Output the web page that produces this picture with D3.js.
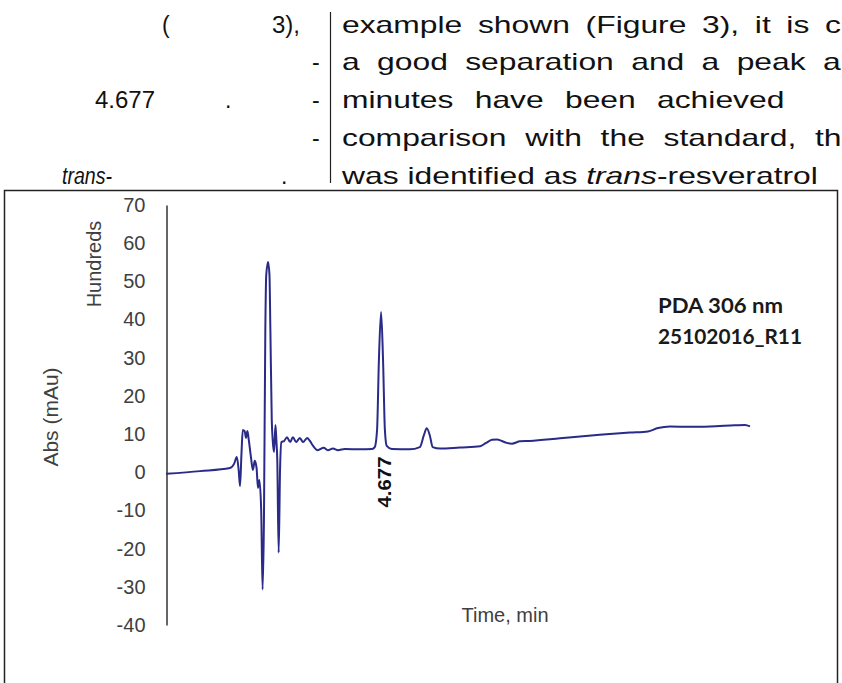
<!DOCTYPE html>
<html>
<head>
<meta charset="utf-8">
<script src="https://cdn.jsdelivr.net/npm/d3@7.9.0/dist/d3.min.js"></script>
<style>
  body { margin: 0; background: #fff; }
  svg { display: block; }
</style>
</head>
<body>
<svg id="fig"></svg>
<script>
// chromatogram trace (time in min, absorbance in hundreds of mAu)
const timeMin = [0, 0.74, 1.39, 1.48, 1.54, 1.58, 1.61, 1.64, 1.67, 1.71, 1.74, 1.77, 1.80, 1.85, 1.89, 1.93, 1.97,
  2.00, 2.03, 2.07, 2.10, 2.13, 2.16, 2.18, 2.22, 2.25, 2.27, 2.30, 2.32, 2.35, 2.38, 2.40, 2.42, 2.45, 2.48, 2.51,
  2.57, 2.63, 2.70, 2.76, 2.83, 2.91, 2.98, 3.07, 3.13, 3.20, 3.30, 3.43, 3.52, 3.63, 3.74, 3.89, 4.22, 4.48,
  4.54, 4.59, 4.63, 4.677, 4.72, 4.76, 4.80, 4.91, 5.30, 5.52, 5.61, 5.67, 5.74, 5.80, 5.96, 6.39, 6.83, 6.96,
  7.09, 7.20, 7.30, 7.41, 7.52, 7.70, 7.91, 8.57, 9.43, 10.09, 10.48, 10.70, 10.96, 11.39, 11.83, 12.37, 12.59, 12.70];
const absHundreds = [-0.4, 0.3, 1.1, 2.2, 4.0, 0.6, -3.6, 4.5, 11.1, 10.8, 9.0, 10.8, 8.5, 3.7, 0.6, 3.0, 1.1,
  -4.1, -2.0, -9.9, -30.7, -12.4, 37.3, 51.7, 55.1, 51.7, 37.3, 13.7, 8.5, 5.3, 12.4, 8.5, 3.2, -21.1, 0.6, 7.9,
  8.2, 9.2, 7.9, 9.2, 7.9, 9.0, 7.9, 9.0, 8.2, 6.9, 5.8, 6.4, 5.8, 6.2, 5.8, 6.1, 6.0, 6.1,
  6.6, 11.1, 29.4, 42.0, 29.4, 11.1, 6.9, 6.1, 6.0, 6.6, 9.8, 11.5, 9.5, 6.6, 6.2, 6.5, 6.8, 7.7,
  8.5, 8.6, 8.2, 7.7, 7.5, 8.1, 8.2, 8.9, 9.8, 10.4, 10.7, 11.6, 12.0, 11.9, 12.0, 12.3, 12.4, 12.0];
const yTicks = [70, 60, 50, 40, 30, 20, 10, 0, -10, -20, -30, -40];
const peakTime = 4.677;
const peakLabel = "4.677";
const infoLines = ["PDA 306 nm", "25102016_R11"];

// page text above the figure (justified column)
const rightRows = [
  ["example", "shown", "(Figure", "3),", "it", "is", "c"],
  ["a", "good", "separation", "and", "a", "peak", "a"],
  ["minutes", "have", "been", "achieved"],
  ["comparison", "with", "the", "standard,", "th"]
];
const lastWordX = [825, 823, 657, 815];

const W = 842, H = 683;
const svg = d3.select("#fig").attr("width", W).attr("height", H);
const bodyFont = "'Liberation Sans', Arial, sans-serif";

// ---- page text ----
const rowY = [33, 70, 108, 146, 184];
const colX = 342;
const txt = svg.append("g").attr("font-family", bodyFont).attr("font-size", 23).attr("fill", "#111");

// horizontal stretch taken from the last, unjustified line
const probe = txt.append("text").attr("transform", `translate(${colX},${rowY[4]})`);
probe.append("tspan").text("was identified as ");
probe.append("tspan").attr("font-style", "italic").text("trans");
probe.append("tspan").text("-resveratrol");
const k = 476 / probe.node().getComputedTextLength();
probe.attr("transform", `translate(${colX},${rowY[4]}) scale(${k},1)`);

rightRows.forEach((words, r) => {
  const nodes = words.map(w => txt.append("text").text(w));
  const widths = nodes.map(n => n.node().getComputedTextLength() * k);
  const used = d3.sum(widths.slice(0, -1));
  const gap = (lastWordX[r] - colX - used) / (words.length - 1);
  let cx = colX;
  nodes.forEach((n, i) => {
    n.attr("transform", `translate(${cx},${rowY[r]}) scale(${k},1)`);
    cx += widths[i] + gap;
  });
});

// left column (only the latin glyphs survive)
const leftItems = [
  ["(", 162, 0, null], ["3),", 272, 0, 28], ["-", 312, 1, null],
  ["4.677", 95, 2, 60], [".", 225, 2, null], ["-", 312, 2, null], ["-", 312, 3, null],
  ["trans-", 62, 4, 50], [".", 281, 4, null]
];
leftItems.forEach(([s, lx, r, len]) => {
  const t = txt.append("text").attr("x", lx).attr("y", rowY[r]).text(s);
  if (s === "trans-") t.attr("font-style", "italic");
  if (len) t.attr("textLength", len).attr("lengthAdjust", "spacingAndGlyphs");
});

svg.append("line")
  .attr("x1", 330.5).attr("x2", 330.5).attr("y1", 12).attr("y2", 183)
  .attr("stroke", "#222").attr("stroke-width", 1.2);

// ---- figure frame ----
svg.append("rect")
  .attr("x", 4.5).attr("y", 190.5).attr("width", 833).attr("height", 520)
  .attr("fill", "#fff").attr("stroke", "#222").attr("stroke-width", 1.5);

// ---- chart ----
const x = d3.scaleLinear().domain([0, 12.7]).range([166, 750]);
const y = d3.scaleLinear().domain([-40, 70]).range([625, 205]);

const yAxis = svg.append("g")
  .attr("transform", "translate(166.5,0)")
  .call(d3.axisLeft(y).tickValues(yTicks).tickSize(0).tickPadding(21).tickFormat(d => String(d)));
yAxis.select(".domain").attr("stroke", "#333").attr("stroke-width", 1.5);
yAxis.selectAll("text")
  .attr("font-family", bodyFont).attr("font-size", 20).attr("fill", "#404040");

svg.append("text")
  .attr("transform", "translate(101,264) rotate(-90)")
  .attr("text-anchor", "middle")
  .attr("font-family", bodyFont).attr("font-size", 20).attr("fill", "#404040")
  .text("Hundreds");

svg.append("text")
  .attr("transform", "translate(58,417) rotate(-90)")
  .attr("text-anchor", "middle")
  .attr("font-family", bodyFont).attr("font-size", 21).attr("fill", "#404040")
  .text("Abs (mAu)");

svg.append("text")
  .attr("x", 505).attr("y", 622)
  .attr("text-anchor", "middle")
  .attr("font-family", bodyFont).attr("font-size", 20).attr("fill", "#404040")
  .text("Time, min");

const pts = timeMin.map((t, i) => [t, absHundreds[i]]);
const line = d3.line().x(d => x(d[0])).y(d => y(d[1])).curve(d3.curveMonotoneX);
svg.append("path")
  .datum(pts)
  .attr("fill", "none")
  .attr("stroke", "#2a2a88")
  .attr("stroke-width", 2)
  .attr("stroke-linejoin", "round")
  .attr("d", line);

// peak label
svg.append("text")
  .attr("transform", `translate(${x(peakTime) + 10},482) rotate(-90)`)
  .attr("text-anchor", "middle")
  .attr("font-family", bodyFont).attr("font-weight", "bold").attr("font-size", 19)
  .attr("textLength", 51).attr("lengthAdjust", "spacingAndGlyphs")
  .attr("fill", "#111")
  .text(peakLabel);

// run info
const infoW = [125, 144];
infoLines.forEach((s, i) => {
  svg.append("text")
    .attr("x", 658).attr("y", 313 + i * 31)
    .attr("font-family", "Lato, 'Open Sans', sans-serif").attr("font-weight", "bold").attr("font-size", 21)
    .attr("textLength", infoW[i]).attr("lengthAdjust", "spacingAndGlyphs")
    .attr("fill", "#1a1a1a")
    .text(s);
});
</script>
</body>
</html>
